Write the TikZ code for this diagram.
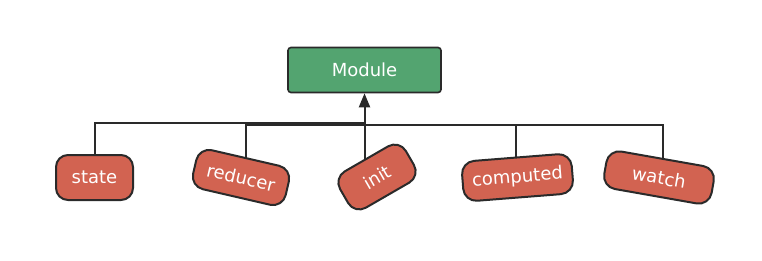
\documentclass[tikz,border=0pt]{standalone}
\usepackage{fontspec}
\setmainfont{DejaVu Sans}
\usetikzlibrary{arrows.meta,backgrounds}
\definecolor{modgreen}{RGB}{83,164,112}
\definecolor{itemred}{RGB}{210,99,81}
\definecolor{edgec}{RGB}{42,42,42}
\begin{document}
\begin{tikzpicture}[x=1pt,y=-1pt,
  modbox/.style={draw=edgec,line width=1.6pt,fill=modgreen,rounded corners=3pt,
    minimum width=153pt,minimum height=45pt,text=white,inner sep=0pt,
    font=\fontsize{18}{20}\selectfont},
  item/.style={draw=edgec,line width=2pt,fill=itemred,rounded corners=13pt,
    minimum height=40pt,text=white,inner sep=0pt,
    font=\fontsize{18}{20}\selectfont},
  link/.style={draw=edgec,line width=2pt}]
\useasboundingbox (0,0) rectangle (762,260);
\node[modbox] (module) at (364.5,70) {Module};
\node[item,minimum width=77pt,minimum height=45pt,rounded corners=12pt] (state) at (94.5,177.5) {state};
\node[item,minimum width=95pt,rotate=-13] (reducer) at (241,177.5) {reducer};
\node[item,minimum width=76pt,minimum height=42pt,rotate=30] (init) at (377,177) {init};
\node[item,minimum width=110pt,rotate=4.5] (computed) at (517.5,177.5) {computed};
\node[item,minimum width=109pt,minimum height=38pt,rotate=-10] (watch) at (659,177.5) {watch};
\coordinate (hs) at (365,123);
\coordinate (jr) at (246,125);
\coordinate (hr) at (365,125);
\coordinate (jc) at (516,125);
\coordinate (jw) at (663,124.5);
\coordinate (hw) at (365,124.5);
\begin{scope}[on background layer]
\draw[link] (state.center) |- (hs);
\draw[link] (jr |- reducer.center) -- (jr) -- (hr);
\draw[link] (jc |- computed.center) -- (jc) -- (hr);
\draw[link] (jw |- watch.center) -- (jw) -- (hw);
\draw[link,-{Triangle[length=14pt,width=11pt]}] (init.center -| module.south) -- (module.south);
\end{scope}
\end{tikzpicture}
\end{document}
